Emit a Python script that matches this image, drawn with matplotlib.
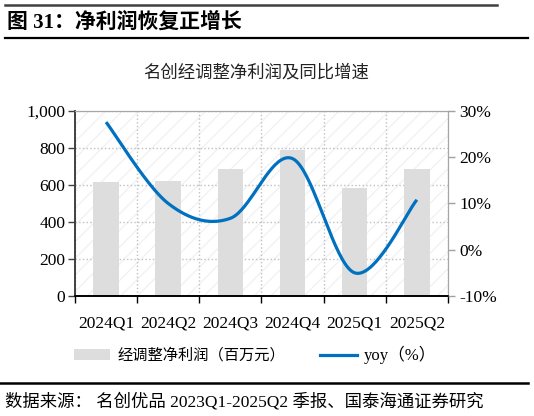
import numpy as np
import matplotlib
matplotlib.use("Agg")
import matplotlib.pyplot as plt
from matplotlib.patches import Rectangle, Patch
from matplotlib.lines import Line2D
from matplotlib.ticker import FuncFormatter

quarters = ["2024Q1", "2024Q2", "2024Q3", "2024Q4", "2025Q1", "2025Q2"]
net_profit = [616, 623, 685, 789, 582, 686]      # 经调整净利润（百万元）
yoy = [27.6, 10.0, 6.8, 19.7, -5.0, 10.8]        # yoy（%）

SERIF = ["Liberation Serif", "Noto Sans CJK SC"]
CJK = ["Noto Sans CJK SC", "DejaVu Sans"]
BAR_C = "#dddddd"
LINE_C = "#0070c0"


def smooth(xs, ys, n=40):
    # excel-like smoothed line (catmull-rom as bezier segments)
    xs = np.asarray(xs, float)
    ys = np.asarray(ys, float)
    px = np.concatenate([[xs[0]], xs, [xs[-1]]])
    py = np.concatenate([[ys[0]], ys, [ys[-1]]])
    t = np.linspace(0, 1, n)
    ox, oy = [], []
    for i in range(1, len(px) - 2):
        p0 = np.array([px[i], py[i]])
        p3 = np.array([px[i + 1], py[i + 1]])
        c1 = p0 + (np.array([px[i + 1], py[i + 1]]) - np.array([px[i - 1], py[i - 1]])) / 6
        c2 = p3 - (np.array([px[i + 2], py[i + 2]]) - np.array([px[i], py[i]])) / 6
        b = ((1 - t) ** 3)[:, None] * p0 + (3 * (1 - t) ** 2 * t)[:, None] * c1 \
            + (3 * (1 - t) * t ** 2)[:, None] * c2 + (t ** 3)[:, None] * p3
        ox.extend(b[:, 0])
        oy.extend(b[:, 1])
    return np.array(ox), np.array(oy)


fig = plt.figure(figsize=(5.34, 4.16), dpi=100)
ax = fig.add_axes([0.1404, 0.2885, 0.6985, 0.4447])
ax2 = ax.twinx()

x = np.arange(len(quarters))
ax.patch.set_facecolor("white")
ax.add_patch(Rectangle((0, 0), 1, 1, transform=ax.transAxes, facecolor="white",
                       edgecolor="#f2f2f2", hatch="//", linewidth=0, zorder=0))
ax.bar(x, net_profit, width=0.41, color=BAR_C, zorder=2)
ax.set_xlim(-0.5, len(quarters) - 0.5)
ax.set_ylim(0, 1000)
ax.set_yticks(range(0, 1001, 200))
ax.yaxis.set_major_formatter(FuncFormatter(lambda v, p: f"{int(v):,}"))
ax.set_xticks(x)
ax.set_xticklabels(quarters)
ax.set_xticks(np.arange(-0.5, len(quarters)), minor=True)
ax.tick_params(axis="x", which="major", length=0, pad=14)
ax.tick_params(axis="x", which="minor", length=5, width=1, color="black", direction="out")
ax.tick_params(axis="y", length=5, width=1, color="#404040", pad=2)
ax.grid(axis="y", linestyle=":", color="#c0c0c0", linewidth=1, zorder=1)
ax.grid(axis="x", which="minor", linestyle=":", color="#c0c0c0", linewidth=1, zorder=1)
for lab in ax.get_xticklabels() + ax.get_yticklabels():
    lab.set_fontfamily(SERIF)
    lab.set_fontsize(12.5)

sx, sy = smooth(x, yoy)
ax2.plot(sx, sy, color=LINE_C, linewidth=2.3, solid_capstyle="butt", zorder=3)
ax2.set_ylim(-10, 30)
ax2.set_yticks(range(-10, 31, 10))
ax2.yaxis.set_major_formatter(FuncFormatter(lambda v, p: f"{int(v)}%"))
ax2.tick_params(axis="y", length=5, width=1, color="#a0a0a0", pad=3)
for lab in ax2.get_yticklabels():
    lab.set_fontfamily(SERIF)
    lab.set_fontsize(12.5)

for a in (ax, ax2):
    a.spines["top"].set_color("#a6a6a6")
    a.spines["right"].set_color("#a6a6a6")
    a.spines["left"].set_color("#404040")
    a.spines["bottom"].set_color("black")
    a.spines["bottom"].set_linewidth(1.2)
    a.spines["left"].set_linewidth(1.2)

fig.text(0.48, 0.825, "名创经调整净利润及同比增速", ha="center", va="center",
         fontsize=12.5, family=CJK, color="#222222")

handles = [Patch(facecolor=BAR_C, edgecolor="none"),
           Line2D([], [], color=LINE_C, linewidth=2.3)]
leg = fig.legend(handles, ["经调整净利润（百万元）", "yoy（%）"], loc="center",
                 bbox_to_anchor=(0.4775, 0.147), ncol=2, frameon=False,
                 prop={"family": CJK, "size": 11}, handlelength=2.4,
                 handletextpad=0.45, columnspacing=2.3)
leg.get_texts()[1].set_fontfamily(SERIF)
leg.get_texts()[1].set_fontsize(12)

fig.add_artist(Line2D([5 / 534, 497 / 534], [0.988, 0.988], color="#404040", linewidth=1.8))
fig.text(7 / 534, 0.947, "图 31：净利润恢复正增长", ha="left", va="center",
         fontsize=15, family=SERIF, fontweight="bold")
fig.add_artist(Line2D([5 / 534, 528 / 534], [0.909, 0.909], color="black", linewidth=1.6))
fig.add_artist(Line2D([0, 528 / 534], [0.079, 0.079], color="black", linewidth=1.8))
fig.text(5 / 534, 0.034, "数据来源： 名创优品 2023Q1-2025Q2 季报、国泰海通证券研究", ha="left",
         va="center", fontsize=12.5, family=SERIF)

fig.savefig("out.png", dpi=100)
